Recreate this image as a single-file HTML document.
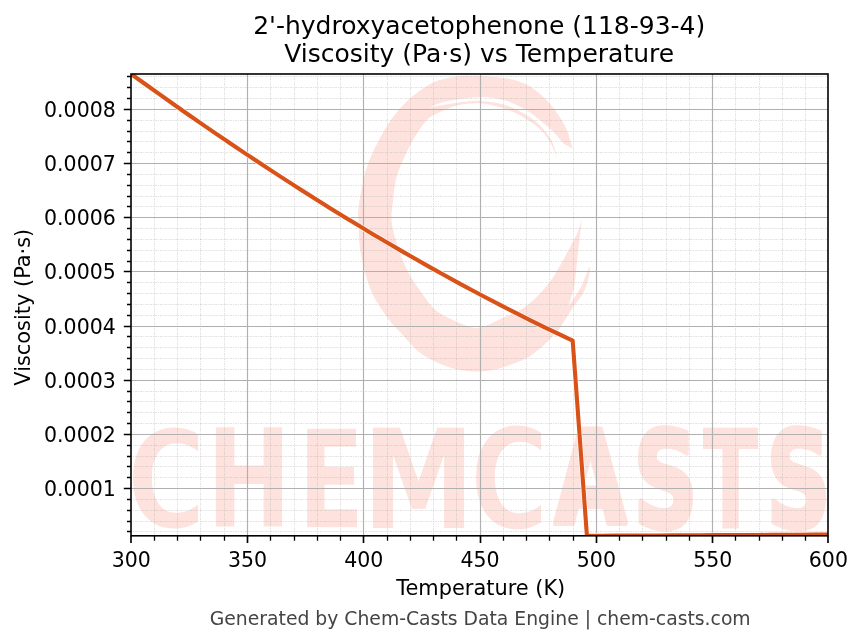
<!DOCTYPE html>
<html><head><meta charset="utf-8"><title>2'-hydroxyacetophenone Viscosity vs Temperature</title>
<style>html,body{margin:0;padding:0;background:#fff;width:863px;height:644px;overflow:hidden}svg{display:block;will-change:transform}</style>
</head><body>
<svg width="863" height="644" viewBox="0 0 863 644">
<rect x="0" y="0" width="863" height="644" fill="#ffffff"/>
<g id="wm">
<path d="M572.6,148.5 C571.6,145.4 569.2,135.4 566.9,130.0 C564.6,124.6 561.7,120.3 559.0,116.0 C556.3,111.7 553.8,108.1 550.6,104.4 C547.4,100.7 543.9,97.3 540.0,94.0 C536.1,90.7 532.0,87.2 527.0,84.7 C522.0,82.2 515.7,80.3 510.0,79.0 C504.3,77.7 498.5,77.5 492.7,77.0 C486.9,76.5 480.8,75.9 475.0,75.8 C469.2,75.7 463.8,75.5 458.0,76.2 C452.2,76.9 445.2,78.4 440.0,80.0 C434.8,81.6 432.2,82.7 426.9,86.0 C421.6,89.3 414.0,94.6 408.2,100.0 C402.4,105.4 397.0,111.6 392.0,118.6 C387.0,125.6 382.1,134.1 378.0,141.9 C373.9,149.7 370.2,157.4 367.5,165.2 C364.8,173.0 363.2,180.7 361.6,188.5 C360.1,196.3 358.7,206.2 358.2,211.8 C357.7,217.4 358.3,216.2 358.6,222.0 C358.9,227.8 358.8,238.3 359.8,246.5 C360.8,254.7 362.4,262.8 364.7,271.0 C366.9,279.2 369.2,287.4 373.3,295.6 C377.4,303.8 384.8,313.9 389.2,320.0 C393.6,326.1 395.1,326.8 400.0,332.0 C404.9,337.2 412.3,346.4 418.5,351.5 C424.7,356.6 430.8,359.7 437.0,362.6 C443.2,365.5 449.4,367.6 455.6,369.1 C461.8,370.6 468.0,371.4 474.2,371.5 C480.4,371.6 486.5,371.2 492.7,370.0 C498.9,368.8 505.0,366.8 511.2,364.5 C517.4,362.2 523.6,360.1 529.8,356.2 C536.0,352.3 543.6,345.5 548.3,341.0 C553.0,336.5 555.0,333.7 558.0,329.0 C561.0,324.3 563.8,318.2 566.0,313.0 C568.2,307.8 569.6,302.8 571.0,298.0 C572.4,293.2 573.4,291.0 574.5,284.0 C575.6,277.0 576.4,266.6 577.6,255.9 C578.8,245.2 581.1,225.7 581.8,219.6 L578.0,232.0 C577.2,233.5 576.0,236.1 573.4,241.0 C570.8,245.9 566.5,254.3 562.3,261.5 C558.1,268.6 554.4,276.4 548.3,283.9 C542.2,291.3 534.3,300.1 525.9,306.2 C517.5,312.2 505.6,316.6 498.0,320.2 C490.4,323.8 485.1,326.5 480.0,327.5 C474.9,328.5 472.2,327.4 467.7,326.2 C463.2,324.9 458.3,322.6 453.0,320.0 C447.7,317.4 440.7,314.4 435.8,310.3 C430.9,306.2 428.3,302.2 423.6,295.6 C418.9,289.1 411.9,279.2 407.6,271.0 C403.3,262.8 400.5,254.7 397.8,246.5 C395.1,238.3 392.5,229.8 391.7,222.0 C390.9,214.2 392.3,207.5 393.1,200.0 C393.9,192.5 394.5,184.6 396.6,176.8 C398.8,169.1 402.5,160.9 406.0,153.5 C409.5,146.1 413.9,138.3 417.6,132.6 C421.3,126.8 424.5,122.3 428.0,119.0 C431.5,115.7 433.7,115.1 438.5,112.8 C443.3,110.5 449.9,107.0 457.0,105.4 C464.1,103.9 473.5,103.0 481.2,103.5 C488.9,104.0 496.3,105.9 503.4,108.2 C510.5,110.5 517.6,113.9 523.8,117.4 C530.0,121.0 536.1,125.4 540.5,129.5 C544.9,133.6 547.2,137.4 550.0,142.0 C552.8,146.6 556.0,154.8 557.2,157.3 L552.0,141.0 C550.1,138.5 545.2,130.6 540.5,126.0 C535.8,121.4 530.0,117.1 523.8,113.5 C517.6,109.9 510.5,106.6 503.4,104.5 C496.3,102.4 488.9,101.2 481.2,100.9 C473.5,100.6 463.9,101.9 457.0,102.7 C450.1,103.5 444.6,104.7 440.0,105.5 C435.4,106.3 431.1,107.4 429.3,107.8 L429.3,107.8 C431.1,107.0 435.4,104.4 440.0,103.0 C444.6,101.6 450.1,100.5 457.0,99.5 C463.9,98.5 473.5,96.9 481.2,97.0 C488.9,97.1 496.3,98.1 503.4,100.0 C510.5,101.9 517.6,105.1 523.8,108.5 C530.0,111.9 535.5,116.6 540.5,120.5 C545.5,124.4 549.6,128.1 553.5,132.0 C557.4,135.9 562.2,142.0 564.0,144.0 Z" fill="#fde2dd"/>
<path d="M556.0,334.0 C557.5,331.7 562.0,324.7 565.0,320.0 C568.0,315.3 571.2,310.2 574.0,306.0 C576.8,301.8 579.9,298.5 582.0,295.0 C584.1,291.5 585.3,288.2 586.5,285.0 C587.7,281.8 588.4,279.2 589.0,276.0 C589.6,272.8 590.0,267.4 590.2,265.7 L590.2,265.7 C589.5,267.2 587.5,271.4 586.0,275.0 C584.5,278.6 583.0,283.2 581.0,287.0 C579.0,290.8 576.5,294.2 574.0,298.0 C571.5,301.8 569.0,305.7 566.0,310.0 C563.0,314.3 557.7,321.7 556.0,324.0 Z" fill="#fde2dd"/>
<text transform="translate(126.41,527.84) scale(0.7862,1)" font-family="DejaVu Sans" font-weight="bold" font-size="138.16" fill="#fde2dd" stroke="#ffffff" stroke-width="3" stroke-linejoin="round">C</text>
<text transform="translate(206.25,527.40) scale(0.7486,1)" font-family="DejaVu Sans" font-weight="bold" font-size="136.49" fill="#fde2dd" stroke="#ffffff" stroke-width="1" stroke-linejoin="round">H</text>
<text transform="translate(297.41,527.65) scale(0.7180,1)" font-family="DejaVu Sans" font-weight="bold" font-size="137.31" fill="#fde2dd" stroke="#ffffff" stroke-width="1.5" stroke-linejoin="round">E</text>
<text transform="translate(362.70,527.50) scale(0.8123,1)" font-family="DejaVu Sans" font-weight="bold" font-size="138.13" fill="#fde2dd">M</text>
<text transform="translate(469.43,529.21) scale(0.7731,1)" font-family="DejaVu Sans" font-weight="bold" font-size="140.41" fill="#fde2dd" stroke="#ffffff" stroke-width="3" stroke-linejoin="round">C</text>
<text transform="translate(554.72,522.50) scale(0.7247,1)" font-family="DejaVu Sans" font-weight="bold" font-size="127.57" fill="#fde2dd" stroke="#fde2dd" stroke-width="6" stroke-linejoin="round">A</text>
<text transform="translate(633.24,526.62) scale(0.6748,1)" font-family="DejaVu Sans" font-weight="bold" font-size="133.01" fill="#fde2dd" stroke="#fde2dd" stroke-width="5" stroke-linejoin="round">S</text>
<text transform="translate(703.20,527.60) scale(0.5904,1)" font-family="DejaVu Sans" font-weight="bold" font-size="135.66" fill="#fde2dd" stroke="#fde2dd" stroke-width="2" stroke-linejoin="round">T</text>
<text transform="translate(766.25,526.52) scale(0.6754,1)" font-family="DejaVu Sans" font-weight="bold" font-size="132.88" fill="#fde2dd" stroke="#fde2dd" stroke-width="5" stroke-linejoin="round">S</text>
</g>
<path d="M154.50,74.0V535.8M177.50,74.0V535.8M200.50,74.0V535.8M224.50,74.0V535.8M270.50,74.0V535.8M294.50,74.0V535.8M317.50,74.0V535.8M340.50,74.0V535.8M387.50,74.0V535.8M410.50,74.0V535.8M433.50,74.0V535.8M456.50,74.0V535.8M503.50,74.0V535.8M526.50,74.0V535.8M549.50,74.0V535.8M573.50,74.0V535.8M619.50,74.0V535.8M642.50,74.0V535.8M666.50,74.0V535.8M689.50,74.0V535.8M735.50,74.0V535.8M759.50,74.0V535.8M782.50,74.0V535.8M805.50,74.0V535.8M131.0,531.50H828.0M131.0,521.50H828.0M131.0,510.50H828.0M131.0,499.50H828.0M131.0,477.50H828.0M131.0,466.50H828.0M131.0,456.50H828.0M131.0,445.50H828.0M131.0,423.50H828.0M131.0,412.50H828.0M131.0,401.50H828.0M131.0,391.50H828.0M131.0,369.50H828.0M131.0,358.50H828.0M131.0,347.50H828.0M131.0,336.50H828.0M131.0,315.50H828.0M131.0,304.50H828.0M131.0,293.50H828.0M131.0,282.50H828.0M131.0,261.50H828.0M131.0,250.50H828.0M131.0,239.50H828.0M131.0,228.50H828.0M131.0,206.50H828.0M131.0,196.50H828.0M131.0,185.50H828.0M131.0,174.50H828.0M131.0,152.50H828.0M131.0,141.50H828.0M131.0,131.50H828.0M131.0,120.50H828.0M131.0,98.50H828.0M131.0,87.50H828.0M131.0,76.50H828.0" stroke="#b0b0b0" stroke-opacity="0.36" stroke-width="1" stroke-dasharray="2.1 0.95 1 0.95" stroke-dashoffset="0.9" fill="none"/>
<path d="M247.50,74.0V535.8M363.50,74.0V535.8M480.50,74.0V535.8M596.50,74.0V535.8M712.50,74.0V535.8M131.0,488.50H828.0M131.0,434.50H828.0M131.0,380.50H828.0M131.0,326.50H828.0M131.0,271.50H828.0M131.0,217.50H828.0M131.0,163.50H828.0M131.0,109.50H828.0" stroke="#b0b0b0" stroke-width="1.15" fill="none"/>
<clipPath id="axclip"><rect x="131.0" y="74.0" width="697.0" height="461.79999999999995"/></clipPath>
<g clip-path="url(#axclip)"><path d="M131.20,74.00 L145.44,84.22 L159.68,94.40 L173.92,104.48 L188.16,114.45 L202.40,124.33 L216.64,134.11 L230.89,143.78 L245.13,153.34 L259.37,162.80 L273.61,172.15 L287.85,181.38 L302.09,190.51 L316.33,199.52 L330.58,208.42 L344.82,217.20 L359.06,225.87 L373.30,234.41 L387.54,242.84 L401.78,251.14 L416.02,259.31 L430.26,267.36 L444.51,275.29 L458.75,283.08 L472.99,290.75 L487.23,298.28 L501.47,305.68 L515.71,312.94 L529.95,320.07 L544.20,327.06 L558.44,333.91 L572.68,340.62 L586.92,535.80 L601.16,535.73 L615.40,535.66 L629.64,535.59 L643.89,535.52 L658.13,535.45 L672.37,535.38 L686.61,535.31 L700.85,535.24 L715.09,535.16 L729.33,535.09 L743.57,535.02 L757.82,534.95 L772.06,534.88 L786.30,534.81 L800.54,534.74 L814.78,534.67 L829.02,534.60" stroke="#ffffff" stroke-width="5.3" fill="none" stroke-linejoin="round" stroke-linecap="butt"/>
<path d="M131.20,74.00 L145.44,84.22 L159.68,94.40 L173.92,104.48 L188.16,114.45 L202.40,124.33 L216.64,134.11 L230.89,143.78 L245.13,153.34 L259.37,162.80 L273.61,172.15 L287.85,181.38 L302.09,190.51 L316.33,199.52 L330.58,208.42 L344.82,217.20 L359.06,225.87 L373.30,234.41 L387.54,242.84 L401.78,251.14 L416.02,259.31 L430.26,267.36 L444.51,275.29 L458.75,283.08 L472.99,290.75 L487.23,298.28 L501.47,305.68 L515.71,312.94 L529.95,320.07 L544.20,327.06 L558.44,333.91 L572.68,340.62 L586.92,535.80 L601.16,535.73 L615.40,535.66 L629.64,535.59 L643.89,535.52 L658.13,535.45 L672.37,535.38 L686.61,535.31 L700.85,535.24 L715.09,535.16 L729.33,535.09 L743.57,535.02 L757.82,534.95 L772.06,534.88 L786.30,534.81 L800.54,534.74 L814.78,534.67 L829.02,534.60" stroke="#d95319" stroke-width="4.1" fill="none" stroke-linejoin="round" stroke-linecap="butt"/></g>
<rect x="131.0" y="74.0" width="697.0" height="461.79999999999995" fill="none" stroke="#000" stroke-width="1.6"/>
<path d="M131.00,535.8v7.2M247.50,535.8v7.2M363.50,535.8v7.2M480.50,535.8v7.2M596.50,535.8v7.2M712.50,535.8v7.2M828.00,535.8v7.2M131.0,488.50h-7.2M131.0,434.50h-7.2M131.0,380.50h-7.2M131.0,326.50h-7.2M131.0,271.50h-7.2M131.0,217.50h-7.2M131.0,163.50h-7.2M131.0,109.50h-7.2" stroke="#000" stroke-width="1.65" fill="none"/>
<path d="M154.50,535.8v5.0M177.50,535.8v5.0M200.50,535.8v5.0M224.50,535.8v5.0M270.50,535.8v5.0M294.50,535.8v5.0M317.50,535.8v5.0M340.50,535.8v5.0M387.50,535.8v5.0M410.50,535.8v5.0M433.50,535.8v5.0M456.50,535.8v5.0M503.50,535.8v5.0M526.50,535.8v5.0M549.50,535.8v5.0M573.50,535.8v5.0M619.50,535.8v5.0M642.50,535.8v5.0M666.50,535.8v5.0M689.50,535.8v5.0M735.50,535.8v5.0M759.50,535.8v5.0M782.50,535.8v5.0M805.50,535.8v5.0M131.0,531.50h-4.0M131.0,521.50h-4.0M131.0,510.50h-4.0M131.0,499.50h-4.0M131.0,477.50h-4.0M131.0,466.50h-4.0M131.0,456.50h-4.0M131.0,445.50h-4.0M131.0,423.50h-4.0M131.0,412.50h-4.0M131.0,401.50h-4.0M131.0,391.50h-4.0M131.0,369.50h-4.0M131.0,358.50h-4.0M131.0,347.50h-4.0M131.0,336.50h-4.0M131.0,315.50h-4.0M131.0,304.50h-4.0M131.0,293.50h-4.0M131.0,282.50h-4.0M131.0,261.50h-4.0M131.0,250.50h-4.0M131.0,239.50h-4.0M131.0,228.50h-4.0M131.0,206.50h-4.0M131.0,196.50h-4.0M131.0,185.50h-4.0M131.0,174.50h-4.0M131.0,152.50h-4.0M131.0,141.50h-4.0M131.0,131.50h-4.0M131.0,120.50h-4.0M131.0,98.50h-4.0M131.0,87.50h-4.0M131.0,76.50h-4.0" stroke="#000" stroke-width="1.3" fill="none"/>
<text x="131.20" y="567.1" font-family="DejaVu Sans, Liberation Sans, sans-serif" font-size="20.5" text-anchor="middle" fill="#000">300</text>
<text x="247.50" y="567.1" font-family="DejaVu Sans, Liberation Sans, sans-serif" font-size="20.5" text-anchor="middle" fill="#000">350</text>
<text x="363.81" y="567.1" font-family="DejaVu Sans, Liberation Sans, sans-serif" font-size="20.5" text-anchor="middle" fill="#000">400</text>
<text x="480.11" y="567.1" font-family="DejaVu Sans, Liberation Sans, sans-serif" font-size="20.5" text-anchor="middle" fill="#000">450</text>
<text x="596.41" y="567.1" font-family="DejaVu Sans, Liberation Sans, sans-serif" font-size="20.5" text-anchor="middle" fill="#000">500</text>
<text x="712.72" y="567.1" font-family="DejaVu Sans, Liberation Sans, sans-serif" font-size="20.5" text-anchor="middle" fill="#000">550</text>
<text x="828.40" y="567.1" font-family="DejaVu Sans, Liberation Sans, sans-serif" font-size="20.5" text-anchor="middle" fill="#000">600</text>
<text x="115.8" y="496.02" font-family="DejaVu Sans, Liberation Sans, sans-serif" font-size="20.5" text-anchor="end" fill="#000">0.0001</text>
<text x="115.8" y="441.85" font-family="DejaVu Sans, Liberation Sans, sans-serif" font-size="20.5" text-anchor="end" fill="#000">0.0002</text>
<text x="115.8" y="387.68" font-family="DejaVu Sans, Liberation Sans, sans-serif" font-size="20.5" text-anchor="end" fill="#000">0.0003</text>
<text x="115.8" y="333.52" font-family="DejaVu Sans, Liberation Sans, sans-serif" font-size="20.5" text-anchor="end" fill="#000">0.0004</text>
<text x="115.8" y="279.35" font-family="DejaVu Sans, Liberation Sans, sans-serif" font-size="20.5" text-anchor="end" fill="#000">0.0005</text>
<text x="115.8" y="225.18" font-family="DejaVu Sans, Liberation Sans, sans-serif" font-size="20.5" text-anchor="end" fill="#000">0.0006</text>
<text x="115.8" y="171.02" font-family="DejaVu Sans, Liberation Sans, sans-serif" font-size="20.5" text-anchor="end" fill="#000">0.0007</text>
<text x="115.8" y="116.85" font-family="DejaVu Sans, Liberation Sans, sans-serif" font-size="20.5" text-anchor="end" fill="#000">0.0008</text>
<text x="480.8" y="594.9" font-family="DejaVu Sans, Liberation Sans, sans-serif" font-size="20.9" text-anchor="middle" fill="#000">Temperature (K)</text>
<text transform="translate(30.0,307.2) rotate(-90)" x="0" y="0" font-family="DejaVu Sans, Liberation Sans, sans-serif" font-size="20.9" text-anchor="middle" fill="#000">Viscosity (Pa·s)</text>
<text x="479.2" y="34.0" font-family="DejaVu Sans, Liberation Sans, sans-serif" font-size="25.0" text-anchor="middle" fill="#000">2'-hydroxyacetophenone (118-93-4)</text>
<text x="479.2" y="61.8" font-family="DejaVu Sans, Liberation Sans, sans-serif" font-size="25.0" text-anchor="middle" fill="#000">Viscosity (Pa·s) vs Temperature</text>
<text x="480.2" y="624.9" font-family="DejaVu Sans, Liberation Sans, sans-serif" font-size="18.8" text-anchor="middle" fill="#444444">Generated by Chem-Casts Data Engine | chem-casts.com</text>
</svg>
</body></html>
